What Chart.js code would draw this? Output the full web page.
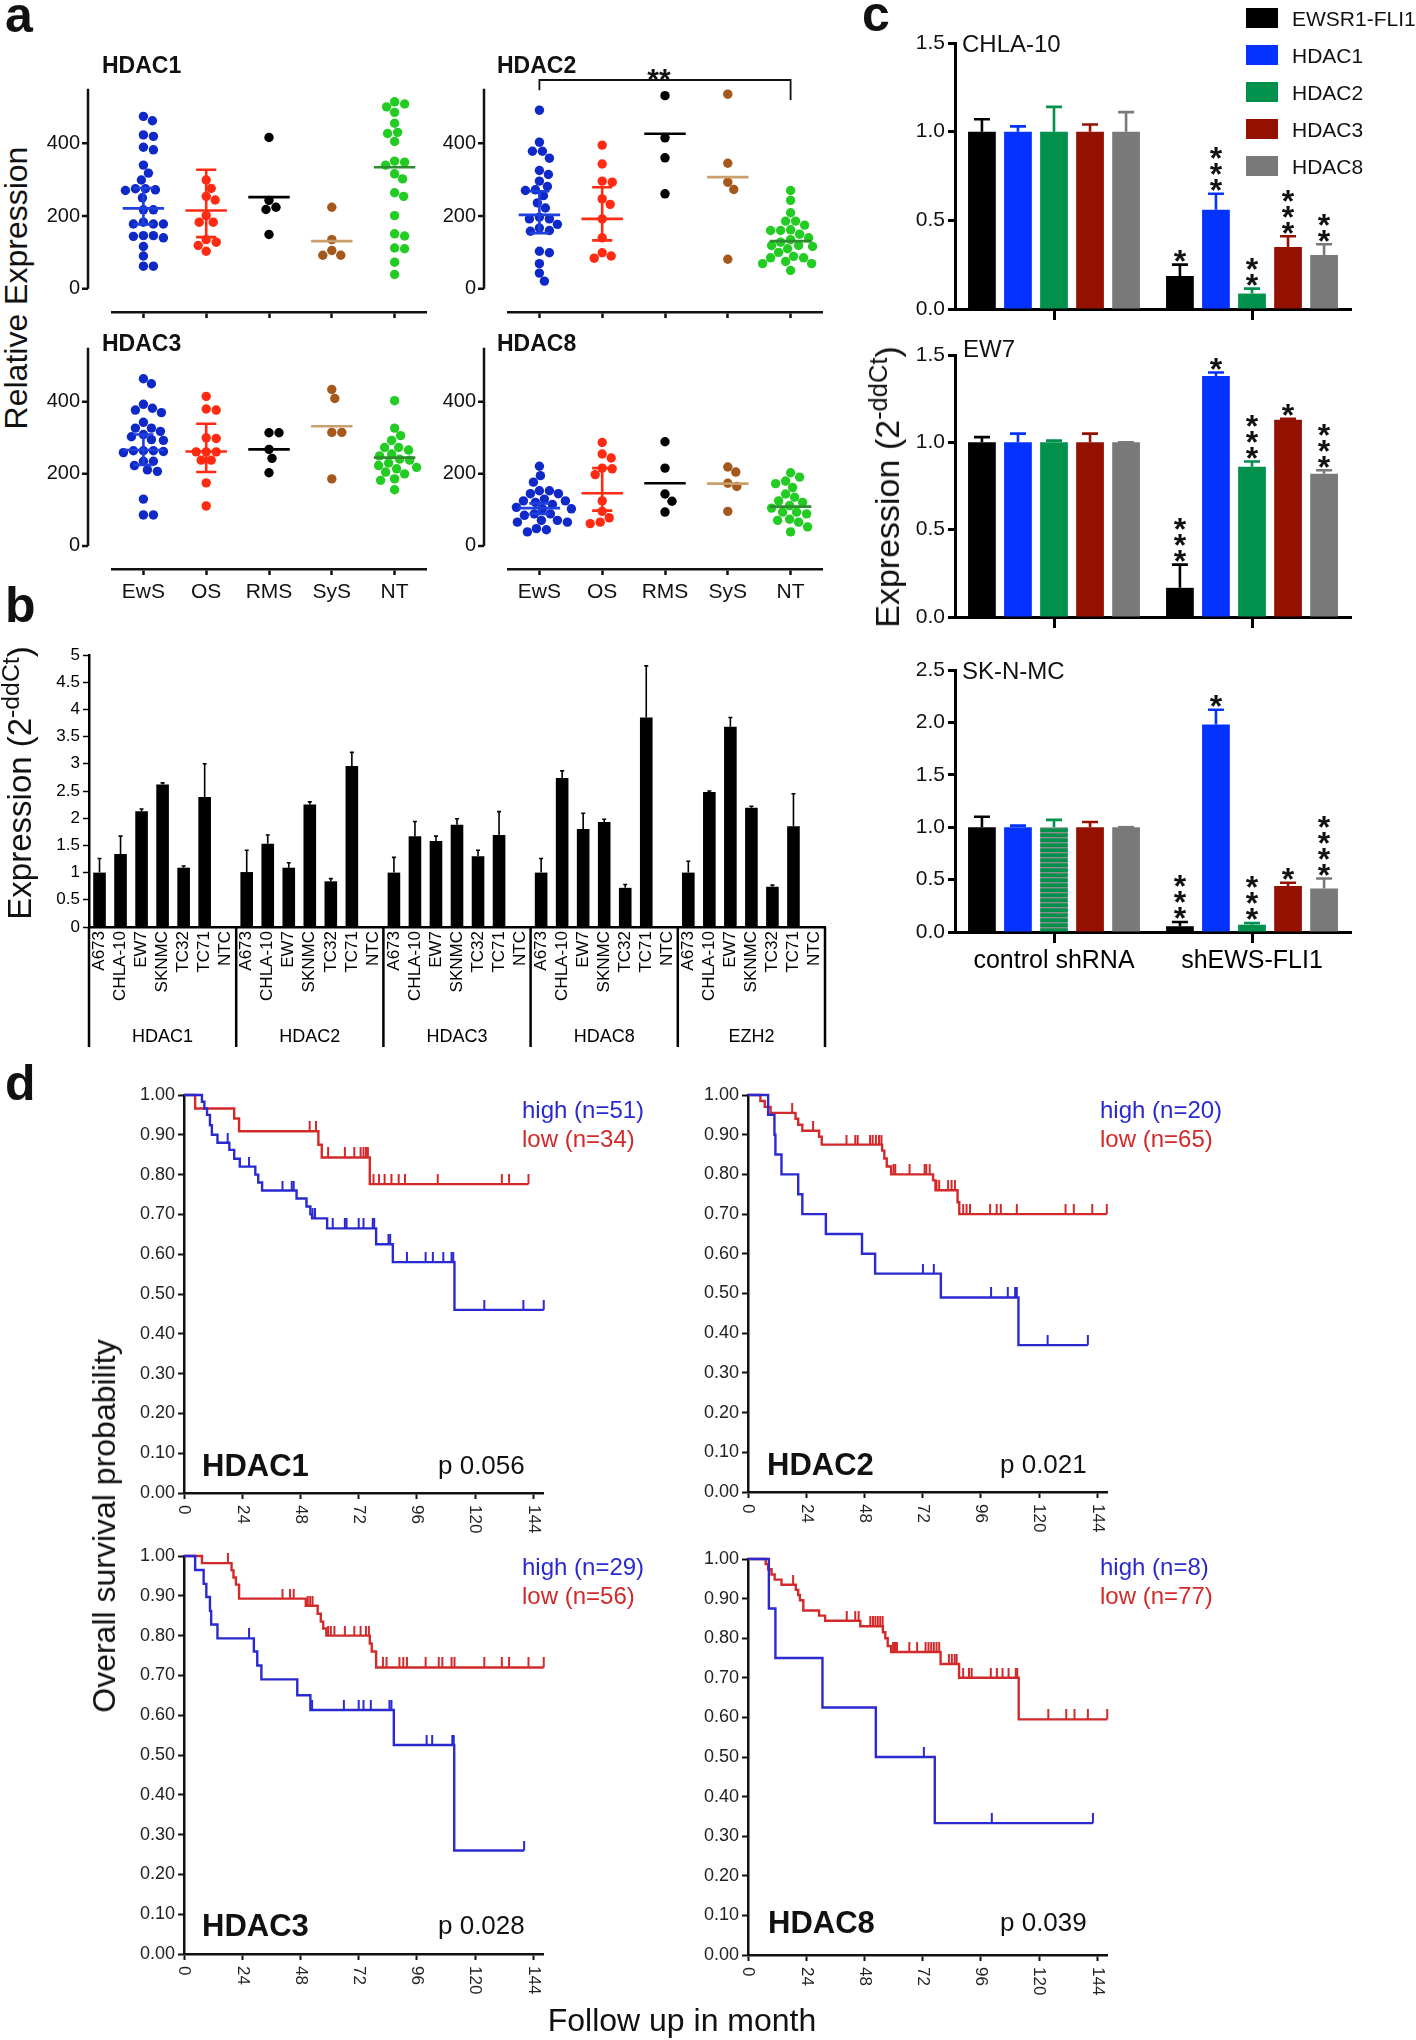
<!DOCTYPE html>
<html>
<head>
<meta charset="utf-8">
<title>HDAC expression in Ewing sarcoma</title>
<script src="https://cdn.jsdelivr.net/npm/chart.js@4.4.1/dist/chart.umd.min.js"></script>
<style>
  html, body { margin: 0; padding: 0; background: #fff; }
  #fig { position: relative; width: 1416px; height: 2040px; overflow: hidden; background: #fff;
         font-family: 'Liberation Sans', Arial, sans-serif; color: #111; }
  #fig canvas { position: absolute; }
  .t { position: absolute; white-space: nowrap; line-height: 1; }
  .t sup { font-size: 75%; vertical-align: super; line-height: 0; }
</style>
</head>
<body>
<div id="fig"></div>
<script>
// ---- panel a: relative expression by tumour type
var tumorTypes = ['EwS', 'OS', 'RMS', 'SyS', 'NT'];
var dotTicks = [0, 200, 400];

var hdac1Dots = [
  [474, 462, 423, 419, 389, 382, 340, 318, 299, 275, 275, 272, 270, 250, 217, 217, 183, 178, 178, 178, 146, 146, 144, 140, 116, 90, 62, 62],
  [299, 276, 254, 244, 201, 183, 183, 135, 128, 119, 103],
  [416, 243, 224, 218, 149],
  [224, 135, 105, 92, 92],
  [514, 508, 500, 485, 455, 430, 427, 405, 351, 348, 340, 316, 302, 264, 254, 201, 151, 145, 112, 110, 73, 39]
];
var hdac1Center = [221, 215, 252, 131, 334];
var hdac1Err = [[177, 277], [142, 327], null, null, null];

var hdac2Dots = [
  [491, 403, 378, 378, 359, 325, 314, 296, 281, 272, 270, 256, 236, 222, 197, 192, 192, 177, 167, 160, 158, 103, 99, 69, 43, 21],
  [395, 343, 296, 293, 247, 232, 192, 140, 99, 90, 84],
  [531, 415, 360, 261],
  [535, 345, 293, 273, 81],
  [270, 243, 209, 186, 186, 175, 162, 160, 160, 150, 140, 135, 128, 119, 119, 116, 110, 100, 89, 85, 85, 75, 69, 69, 50]
];
var hdac2Center = [203, 192, 426, 307, 131];
var hdac2Err = [[153, 268], [133, 279], null, null, null];

var hdac3Dots = [
  [464, 450, 393, 382, 377, 370, 343, 327, 327, 318, 309, 303, 295, 293, 264, 264, 264, 262, 259, 235, 235, 223, 211, 207, 130, 86, 86],
  [415, 380, 377, 300, 298, 261, 261, 261, 238, 238, 175, 111],
  [314, 314, 268, 243, 203],
  [434, 409, 315, 315, 186],
  [403, 327, 306, 293, 273, 273, 266, 255, 250, 241, 238, 230, 223, 218, 214, 205, 200, 186, 182, 156]
];
var hdac3Center = [266, 262, 268, 332, 245];
var hdac3Err = [[225, 309], [205, 339], null, null, null];

var hdac8Dots = [
  [221, 195, 177, 153, 153, 145, 145, 130, 125, 125, 121, 115, 107, 103, 103, 89, 89, 85, 71, 71, 66, 66, 48, 45, 39],
  [287, 255, 244, 216, 214, 198, 125, 96, 78, 66, 62],
  [289, 216, 144, 124, 94],
  [219, 205, 174, 165, 96],
  [203, 191, 180, 173, 162, 144, 135, 125, 121, 112, 105, 94, 94, 89, 74, 71, 66, 53, 39]
];
var hdac8Center = [105, 146, 174, 173, 109];
var hdac8Err = [[89, 118], [98, 216], null, null, null];

// ---- panel b: qPCR in cell lines
var cellLines = ['A673', 'CHLA-10', 'EW7', 'SKNMC', 'TC32', 'TC71', 'NTC'];
var qpcrGenes = ['HDAC1', 'HDAC2', 'HDAC3', 'HDAC8', 'EZH2'];
var qpcrHDAC1 = [1.0, 1.34, 2.13, 2.62, 1.09, 2.39, 0];
var qpcrHDAC2 = [1.01, 1.53, 1.09, 2.25, 0.84, 2.96, 0];
var qpcrHDAC3 = [1.0, 1.67, 1.58, 1.88, 1.30, 1.69, 0];
var qpcrHDAC8 = [1.0, 2.74, 1.80, 1.93, 0.72, 3.85, 0];
var qpcrEZH2 = [1.0, 2.48, 3.68, 2.19, 0.74, 1.85, 0];
var qpcrTopHDAC1 = [1.26, 1.67, 2.17, 2.65, 1.12, 3.0, 0];
var qpcrTopHDAC2 = [1.41, 1.69, 1.18, 2.30, 0.89, 3.21, 0];
var qpcrTopHDAC3 = [1.28, 1.94, 1.67, 1.99, 1.41, 2.12, 0];
var qpcrTopHDAC8 = [1.26, 2.87, 2.09, 1.98, 0.78, 4.80, 0];
var qpcrTopEZH2 = [1.21, 2.50, 3.85, 2.22, 0.77, 2.45, 0];
var qpcrTicks = [0, 0.5, 1, 1.5, 2, 2.5, 3, 3.5, 4, 4.5, 5];

// ---- panel c: knockdown of EWS-FLI1
var knockSeries = ['EWSR1-FLI1', 'HDAC1', 'HDAC2', 'HDAC3', 'HDAC8'];
var shConditions = ['control shRNA', 'shEWS-FLI1'];
var chla10Means = [[1.0, 0.186], [1.0, 0.56], [1.0, 0.087], [1.0, 0.35], [1.0, 0.305]];
var chla10Tops = [[1.07, 0.25], [1.03, 0.65], [1.14, 0.115], [1.04, 0.41], [1.11, 0.365]];
var chla10Stars = [['', '*'], ['', '***'], ['', '**'], ['', '***'], ['', '**']];
var ew7Means = [[1.0, 0.167], [1.0, 1.38], [1.0, 0.86], [1.0, 1.13], [1.0, 0.82]];
var ew7Tops = [[1.03, 0.30], [1.05, 1.40], [1.01, 0.89], [1.05, 1.135], [1.0, 0.84]];
var ew7Stars = [['', '***'], ['', '*'], ['', '***'], ['', '*'], ['', '***']];
var sknmcMeans = [[1.0, 0.055], [1.0, 1.98], [1.0, 0.07], [1.0, 0.44], [1.0, 0.415]];
var sknmcTops = [[1.10, 0.096], [1.015, 2.12], [1.07, 0.086], [1.05, 0.47], [1.0, 0.51]];
var sknmcStars = [['', '***'], ['', '*'], ['', '***'], ['', '*'], ['', '****']];
var knockTicks15 = [0, 0.5, 1.0, 1.5];
var knockTicks25 = [0, 0.5, 1.0, 1.5, 2.0, 2.5];

// ---- panel d: Kaplan-Meier survival (time in months, survival, censored times)
var kmGenes = ['HDAC1', 'HDAC2', 'HDAC3', 'HDAC8'];
var kmPValues = ['0.056', '0.021', '0.028', '0.039'];
var kmHighN = [51, 20, 29, 8];
var kmLowN = [34, 65, 56, 77];
var kmTimeTicks = [0, 24, 48, 72, 96, 120, 144];
var kmProbTicks = [0, 0.1, 0.2, 0.3, 0.4, 0.5, 0.6, 0.7, 0.8, 0.9, 1.0];

var hdac1HighT = [0, 7.4, 8.4, 9.5, 10.7, 11.5, 13.8, 18.7, 20.7, 23, 29.4, 30.6, 32.2, 46.4, 50.5, 52.1, 52.8, 59, 79.2, 86.1, 111.5, 148.3];
var hdac1HighS = [1, 0.983, 0.966, 0.95, 0.924, 0.90, 0.88, 0.862, 0.84, 0.82, 0.80, 0.78, 0.76, 0.74, 0.72, 0.70, 0.69, 0.665, 0.625, 0.58, 0.46, 0.46];
var hdac1HighC = [18, 26.8, 40.6, 44.4, 45.2, 53, 54, 61.3, 66.3, 67, 72, 74, 77.8, 78.4, 84.3, 85, 91.9, 99.6, 102.6, 106.9, 110.3, 111, 123.8, 139.9, 148.3];
var hdac1LowT = [0, 4.6, 20.7, 22.7, 55.4, 56.8, 76.6, 142];
var hdac1LowS = [1, 0.966, 0.941, 0.909, 0.875, 0.843, 0.776, 0.776];
var hdac1LowC = [51.8, 54.4, 59.4, 66.3, 70.2, 72.8, 74, 75, 75.8, 78.1, 80.4, 82.7, 85.5, 88.5, 91.1, 104.6, 131, 134, 142];

var hdac2HighT = [0, 8.3, 10.9, 11.3, 13.8, 20.7, 22.4, 32.1, 47, 52.4, 79.5, 111.5, 140.1];
var hdac2HighS = [1, 0.95, 0.90, 0.85, 0.80, 0.75, 0.70, 0.65, 0.60, 0.55, 0.49, 0.37, 0.37];
var hdac2HighC = [72.1, 76.6, 100.2, 107.1, 110.1, 110.8, 123.5, 140.1];
var hdac2LowT = [0, 5.1, 6.9, 9.3, 19.6, 20.7, 22.4, 29.3, 30.4, 55.3, 56.2, 57.2, 59, 76.3, 77.3, 86.4, 87.1, 147.9];
var hdac2LowS = [1, 0.985, 0.97, 0.955, 0.94, 0.925, 0.91, 0.895, 0.875, 0.86, 0.84, 0.82, 0.80, 0.785, 0.76, 0.73, 0.70, 0.70];
var hdac2LowC = [18.2, 26.8, 40.6, 44.2, 45.2, 50.3, 51.4, 52.7, 54, 55, 60, 60.7, 66.6, 72.8, 73.5, 74.9, 77.7, 78.8, 82.5, 83.9, 85.3, 88.7, 90.1, 91.5, 99.8, 102.5, 104.2, 110.8, 130.9, 134.3, 141.9, 147.9];

var hdac3HighT = [0, 4.6, 8.1, 9.2, 10.7, 11.2, 13.8, 28.8, 30.2, 31.9, 46.7, 52.1, 86.5, 111.4, 140.2];
var hdac3HighS = [1, 0.965, 0.93, 0.897, 0.862, 0.828, 0.793, 0.76, 0.725, 0.69, 0.65, 0.613, 0.525, 0.26, 0.26];
var hdac3HighC = [26.8, 52.8, 65.9, 72, 74, 77, 84.7, 85.5, 100, 102.3, 110.6, 111.2, 140.2];
var hdac3LowT = [0, 7.4, 19.6, 20.4, 21.4, 22.7, 50.2, 55.1, 56.4, 57.4, 58.7, 76.6, 77.4, 79.2, 148.3];
var hdac3LowS = [1, 0.982, 0.964, 0.946, 0.928, 0.893, 0.875, 0.855, 0.835, 0.818, 0.80, 0.78, 0.76, 0.72, 0.72];
var hdac3LowC = [18.1, 40.6, 43.7, 45.2, 51, 52, 53, 59.4, 60.5, 62, 66.3, 70.2, 72.8, 75, 76.2, 82, 83.5, 88.8, 90.4, 91.9, 99.6, 105, 106.5, 110.3, 111.5, 123.8, 131, 134, 142, 148.3];

var hdac8HighT = [0, 8.6, 11.3, 30.7, 52.7, 77, 142.2];
var hdac8HighS = [1, 0.875, 0.75, 0.625, 0.5, 0.333, 0.333];
var hdac8HighC = [72.5, 100.5, 142.2];
var hdac8LowT = [0, 7.3, 8.3, 9.7, 11, 13.8, 19.7, 20.7, 21.4, 22.8, 29.3, 31.8, 46.3, 55.6, 56.6, 57.6, 59, 79.4, 87, 111.6, 148.1];
var hdac8LowS = [1, 0.987, 0.974, 0.961, 0.948, 0.935, 0.922, 0.909, 0.896, 0.87, 0.857, 0.844, 0.83, 0.815, 0.80, 0.78, 0.765, 0.735, 0.70, 0.595, 0.595];
var hdac8LowC = [18.6, 40.7, 44.2, 45.6, 50.4, 51.5, 52.5, 53.5, 54.5, 55.5, 59.8, 60.6, 61.4, 66.5, 69.7, 73.2, 74.4, 75.5, 76.6, 77.7, 78.8, 82.8, 84, 85.2, 86, 88.7, 91.1, 92.2, 100.1, 102.6, 104.9, 107.4, 110.4, 111, 123.8, 131.2, 134.6, 140.1, 148.1];

// ---- styles
var SANS = "'Liberation Sans', Arial, sans-serif";
var NARROW = "'Liberation Sans Narrow', 'Arial Narrow', 'Liberation Sans', sans-serif";
var dotColors = ['#0f28c8', '#ff2a12', '#000000', '#a5581c', '#22cc22'];
var meanColors = ['#1f3fdf', '#ff2a12', '#000000', '#c9a06b', '#2d8c2d'];
var knockColors = ['#000000', '#0433ff', '#00914d', '#941100', '#797979'];
var HIGH = '#2a2ad0', LOW = '#d22a2a';

Chart.defaults.font.family = SANS;
Chart.defaults.color = '#111';
Chart.defaults.animation = false;
Chart.defaults.responsive = false;
Chart.defaults.devicePixelRatio = 1;
Chart.defaults.events = [];
Chart.defaults.plugins.legend.display = false;
Chart.defaults.plugins.tooltip.enabled = false;

var fig = document.getElementById('fig');

function frame(box, plot) {
  return {
    pad: { top: plot.t - box.t, right: box.r - plot.r, left: 0, bottom: 0 },
    yw: plot.l - box.l,
    xh: box.b - plot.b
  };
}

function canvasAt(box) {
  var c = document.createElement('canvas');
  c.width = box.r - box.l;
  c.height = box.b - box.t;
  c.style.left = box.l + 'px';
  c.style.top = box.t + 'px';
  fig.appendChild(c);
  return c.getContext('2d');
}

function label(html, x, y, css) {
  var d = document.createElement('div');
  d.className = 't';
  d.innerHTML = html;
  d.style.left = x + 'px';
  d.style.top = y + 'px';
  if (css) d.style.cssText += css;
  fig.appendChild(d);
  return d;
}

function tickList(vals) {
  return function (s) { s.ticks = vals.map(function (v) { return { value: v }; }); };
}

// simple beeswarm: spread points sideways so dots do not overlap
function swarm(values, center, xpx, ypx) {
  var d = 9.4, placed = [];
  values.slice().sort(function (a, b) { return b - a; }).forEach(function (v) {
    for (var k = 0; k < 80; k++) {
      var off = (k % 2 ? 1 : -1) * Math.ceil(k / 2);
      var hit = placed.some(function (p) {
        var dx = off - p.off, dy = (v - p.v) * ypx;
        return dx * dx + dy * dy < d * d;
      });
      if (!hit) { placed.push({ v: v, off: off }); break; }
    }
  });
  return placed.map(function (p) { return { x: center + p.off / xpx, y: p.v }; });
}

function survAt(T, S, t) {
  var s = S[0];
  for (var i = 0; i < T.length; i++) { if (T[i] <= t) s = S[i]; }
  return s;
}

function censorMark(color) {
  var c = document.createElement('canvas');
  c.width = 4; c.height = 20;
  var g = c.getContext('2d');
  g.fillStyle = color;
  g.fillRect(1, 0, 2, 10);
  return c;
}

// ---- plugins
var prismAxis = {
  id: 'prismAxis',
  afterDraw: function (chart, args, o) {
    var ctx = chart.ctx, ys = chart.scales.y, xs = chart.scales.x, a = chart.chartArea;
    var x0 = a.left - o.offset;
    ctx.save();
    ctx.strokeStyle = '#111';
    ctx.lineWidth = 2.5;
    ctx.beginPath();
    ctx.moveTo(x0, ys.getPixelForValue(0));
    ctx.lineTo(x0, ys.getPixelForValue(o.top));
    o.ticks.forEach(function (v) {
      var py = ys.getPixelForValue(v);
      ctx.moveTo(x0 - 6, py);
      ctx.lineTo(x0, py);
    });
    ctx.stroke();
    var b = o.bracket;
    if (b) {
      var xa = xs.getPixelForValue(b.from), xb = xs.getPixelForValue(b.to), yl = ys.getPixelForValue(b.level);
      ctx.lineWidth = 1.8;
      ctx.beginPath();
      ctx.moveTo(xa, ys.getPixelForValue(b.legs[0]));
      ctx.lineTo(xa, yl);
      ctx.lineTo(xb, yl);
      ctx.lineTo(xb, ys.getPixelForValue(b.legs[1]));
      ctx.stroke();
      ctx.fillStyle = '#111';
      ctx.font = 'bold 30px ' + SANS;
      ctx.textAlign = 'center';
      ctx.textBaseline = 'alphabetic';
      ctx.fillText(b.text, (xa + xb) / 2 - 6, yl + 9);
    }
    ctx.restore();
  }
};

var errBars = {
  id: 'errBars',
  afterDatasetsDraw: function (chart, args, o) {
    var ctx = chart.ctx, ys = chart.scales.y;
    ctx.save();
    o.tops.forEach(function (tops, di) {
      var meta = chart.getDatasetMeta(di);
      meta.data.forEach(function (bar, j) {
        var val = chart.data.datasets[di].data[j];
        if (!(val > 0) || !(tops[j] >= val)) return;
        var y1 = ys.getPixelForValue(tops[j]);
        ctx.strokeStyle = o.colors[di];
        ctx.lineWidth = o.width;
        ctx.beginPath();
        ctx.moveTo(bar.x, bar.y);
        ctx.lineTo(bar.x, y1);
        ctx.moveTo(bar.x - o.cap / 2, y1);
        ctx.lineTo(bar.x + o.cap / 2, y1);
        ctx.stroke();
        var n = (o.stars && o.stars[di][j]) ? o.stars[di][j].length : 0;
        ctx.fillStyle = '#111';
        ctx.font = 'bold ' + o.starSize + 'px ' + SANS;
        ctx.textAlign = 'center';
        ctx.textBaseline = 'alphabetic';
        for (var k = 0; k < n; k++) {
          var cy = y1 - o.starGap - k * o.starStep;
          ctx.fillText('*', bar.x, cy + o.starSize * 0.57);
        }
      });
    });
    ctx.restore();
  }
};

var groupAxis = {
  id: 'groupAxis',
  afterDraw: function (chart, args, o) {
    var ctx = chart.ctx, xs = chart.scales.x, a = chart.chartArea;
    var n = o.names.length, cw = (xs.right - xs.left) / (o.per * n);
    ctx.save();
    ctx.strokeStyle = '#000';
    ctx.lineWidth = 2.5;
    ctx.beginPath();
    for (var k = 0; k <= n; k++) {
      var x = xs.left + k * o.per * cw;
      ctx.moveTo(x, a.bottom);
      ctx.lineTo(x, a.bottom + o.depth);
    }
    ctx.stroke();
    ctx.fillStyle = '#000';
    ctx.font = o.font;
    ctx.textAlign = 'center';
    ctx.textBaseline = 'middle';
    o.names.forEach(function (nm, k) {
      ctx.fillText(nm, xs.left + (k + 0.5) * o.per * cw, a.bottom + o.labelY);
    });
    ctx.restore();
  }
};

var cwLabels = {
  id: 'cwLabels',
  afterDraw: function (chart, args, o) {
    var ctx = chart.ctx, xs = chart.scales.x, a = chart.chartArea;
    ctx.save();
    ctx.fillStyle = '#222';
    ctx.font = '17px ' + SANS;
    ctx.textAlign = 'left';
    ctx.textBaseline = 'middle';
    xs.ticks.forEach(function (t) {
      ctx.save();
      ctx.translate(xs.getPixelForValue(t.value), a.bottom + o.gap);
      ctx.rotate(Math.PI / 2);
      ctx.fillText(String(t.value), 0, 0);
      ctx.restore();
    });
    ctx.restore();
  }
};

// ---- panel a
function dotPlot(box, plot, dots, centers, errs, showNames, bracket) {
  var f = frame(box, plot);
  var yMin = -64, yMax = 552;
  var xpx = (plot.r - plot.l) / tumorTypes.length;
  var ypx = (plot.b - plot.t) / (yMax - yMin);
  var datasets = [];
  dots.forEach(function (vals, g) {
    datasets.push({ data: swarm(vals, g, xpx, ypx), backgroundColor: dotColors[g],
                    pointRadius: 4.7, pointBorderWidth: 0, order: 2 });
  });
  centers.forEach(function (m, g) {
    var pts = [{ x: g - 0.33, y: m }, { x: g + 0.33, y: m }];
    var e = errs[g];
    if (e) {
      pts.push({ x: g, y: null }, { x: g, y: e[0] }, { x: g, y: e[1] },
               { x: g, y: null }, { x: g - 0.16, y: e[1] }, { x: g + 0.16, y: e[1] },
               { x: g, y: null }, { x: g - 0.16, y: e[0] }, { x: g + 0.16, y: e[0] });
    }
    datasets.push({ data: pts, showLine: true, spanGaps: false, borderColor: meanColors[g],
                    borderWidth: 2.6, pointRadius: 0, order: 1 });
  });
  new Chart(canvasAt(box), {
    type: 'scatter',
    data: { datasets: datasets },
    options: {
      layout: { padding: f.pad },
      scales: {
        x: {
          type: 'linear', min: -0.5, max: 4.5,
          afterBuildTicks: tickList([0, 1, 2, 3, 4]),
          ticks: { display: showNames, color: '#111', font: { size: 21 }, padding: 5, maxRotation: 0,
                   callback: function (v) { return tumorTypes[v]; } },
          grid: { display: true, drawOnChartArea: false, tickLength: 6, tickWidth: 2.5, tickColor: '#111' },
          border: { display: true, width: 2.5, color: '#111' },
          afterFit: function (s) { s.height = f.xh; }
        },
        y: {
          min: yMin, max: yMax,
          afterBuildTicks: tickList(dotTicks),
          ticks: { color: '#111', font: { size: 20 }, padding: 3 },
          grid: { display: false, drawTicks: true, tickLength: 29 },
          border: { display: false },
          afterFit: function (s) { s.width = f.yw; }
        }
      },
      plugins: { prismAxis: { offset: 24, top: 550, ticks: dotTicks, bracket: bracket } }
    },
    plugins: [prismAxis]
  });
}

dotPlot({ l: 40, t: 50, r: 440, b: 330 }, { l: 112, t: 88, r: 426, b: 312 }, hdac1Dots, hdac1Center, hdac1Err, false, null);
dotPlot({ l: 440, t: 50, r: 840, b: 330 }, { l: 508, t: 88, r: 822, b: 312 }, hdac2Dots, hdac2Center, hdac2Err, false,
        { from: 0, to: 4, level: 574, legs: [546, 519], text: '**' });
dotPlot({ l: 40, t: 330, r: 440, b: 610 }, { l: 112, t: 347, r: 426, b: 569 }, hdac3Dots, hdac3Center, hdac3Err, true, null);
dotPlot({ l: 440, t: 330, r: 840, b: 610 }, { l: 508, t: 347, r: 822, b: 569 }, hdac8Dots, hdac8Center, hdac8Err, true, null);

var titleCss = 'font-weight:bold;font-size:23px;transform:translateY(-50%);';
label('HDAC1', 102, 65, titleCss);
label('HDAC2', 497, 65, titleCss);
label('HDAC3', 102, 343, titleCss);
label('HDAC8', 497, 343, titleCss);
label('Relative Expression', 16, 288, 'font-size:32px;transform:translate(-50%,-50%) rotate(-90deg);');

// ---- panel b
(function () {
  var box = { l: 20, t: 640, r: 845, b: 1062 }, plot = { l: 89, t: 655, r: 825, b: 927 };
  var f = frame(box, plot);
  var means = [qpcrHDAC1, qpcrHDAC2, qpcrHDAC3, qpcrHDAC8, qpcrEZH2];
  var tops = [qpcrTopHDAC1, qpcrTopHDAC2, qpcrTopHDAC3, qpcrTopHDAC8, qpcrTopEZH2];
  var labels = [], values = [], errTop = [];
  qpcrGenes.forEach(function (g, k) {
    cellLines.forEach(function (c, i) {
      labels.push(c);
      values.push(means[k][i]);
      errTop.push(tops[k][i]);
    });
  });
  new Chart(canvasAt(box), {
    type: 'bar',
    data: { labels: labels, datasets: [{ data: values, backgroundColor: '#000', barPercentage: 0.6, categoryPercentage: 1 }] },
    options: {
      layout: { padding: f.pad },
      scales: {
        x: {
          grid: { display: false, drawTicks: false },
          border: { display: true, color: '#000', width: 2.5 },
          ticks: { autoSkip: false, minRotation: 90, maxRotation: 90, padding: 4, color: '#000',
                   font: { family: NARROW, size: 17 } },
          afterFit: function (s) { s.height = f.xh; }
        },
        y: {
          min: 0, max: 5,
          afterBuildTicks: tickList(qpcrTicks),
          ticks: { padding: 3, color: '#000', font: { family: NARROW, size: 17 },
                   callback: function (v) { return String(v); } },
          grid: { display: true, drawOnChartArea: false, tickLength: 6, tickWidth: 1.5, tickColor: '#000' },
          border: { display: true, color: '#000', width: 2.5 },
          afterFit: function (s) { s.width = f.yw; }
        }
      },
      plugins: {
        errBars: { tops: [errTop], colors: ['#000'], width: 1.6, cap: 4 },
        groupAxis: { names: qpcrGenes, per: cellLines.length, depth: 120, labelY: 110, font: '18px ' + NARROW }
      }
    },
    plugins: [errBars, groupAxis]
  });
})();
label('Expression (2<sup>-ddCt</sup>)', 19, 783, 'font-size:33px;transform:translate(-50%,-50%) rotate(-90deg);');

// ---- panel c
function knockChart(box, plot, means, tops, stars, ticks, showNames, hatch) {
  var f = frame(box, plot);
  var ctx = canvasAt(box);
  var datasets = knockSeries.map(function (name, k) {
    var fill = knockColors[k];
    if (hatch && hatch[0] === k) {
      var pc = document.createElement('canvas');
      pc.width = 4; pc.height = 5;
      var pg = pc.getContext('2d');
      pg.fillStyle = knockColors[k];
      pg.fillRect(0, 0, 4, 5);
      pg.fillStyle = '#8c8c8c';
      pg.fillRect(0, 2, 4, 1.4);
      var pat = ctx.createPattern(pc, 'repeat');
      fill = shConditions.map(function (c, i) { return i === hatch[1] ? pat : knockColors[k]; });
    }
    return { label: name, data: means[k], backgroundColor: fill, borderWidth: 0,
             barPercentage: 0.77, categoryPercentage: 0.91 };
  });
  new Chart(ctx, {
    type: 'bar',
    data: { labels: shConditions, datasets: datasets },
    options: {
      layout: { padding: f.pad },
      scales: {
        x: {
          grid: { display: true, drawOnChartArea: false, offset: false, tickLength: 11, tickWidth: 3, tickColor: '#000' },
          border: { display: true, color: '#000', width: 3 },
          ticks: { display: showNames, color: '#000', font: { size: 25 }, padding: 3, maxRotation: 0 },
          afterFit: function (s) { s.height = f.xh; }
        },
        y: {
          min: 0, max: ticks[ticks.length - 1],
          afterBuildTicks: tickList(ticks),
          ticks: { padding: 3, color: '#111', font: { size: 21 },
                   callback: function (v) { return v.toFixed(1); } },
          grid: { display: true, drawOnChartArea: false, tickLength: 7, tickWidth: 3, tickColor: '#000' },
          border: { display: true, color: '#000', width: 3 },
          afterFit: function (s) { s.width = f.yw; }
        }
      },
      plugins: {
        errBars: { tops: tops, colors: knockColors, width: 2.6, cap: 16, stars: stars,
                   starSize: 32, starGap: 11, starStep: 16 }
      }
    },
    plugins: [errBars]
  });
}

knockChart({ l: 900, t: 25, r: 1370, b: 330 }, { l: 955, t: 43, r: 1351, b: 309 },
           chla10Means, chla10Tops, chla10Stars, knockTicks15, false, null);
knockChart({ l: 900, t: 335, r: 1370, b: 640 }, { l: 955, t: 355, r: 1351, b: 617 },
           ew7Means, ew7Tops, ew7Stars, knockTicks15, false, null);
knockChart({ l: 900, t: 650, r: 1370, b: 990 }, { l: 955, t: 670, r: 1351, b: 932 },
           sknmcMeans, sknmcTops, sknmcStars, knockTicks25, true, [2, 0]);

var cellCss = 'font-size:24px;transform:translateY(-50%);';
label('CHLA-10', 962, 44, cellCss);
label('EW7', 963, 349, cellCss);
label('SK-N-MC', 962, 671, cellCss);
label('Expression (2<sup>-ddCt</sup>)', 887, 487, 'font-size:34px;transform:translate(-50%,-50%) rotate(-90deg);');

knockSeries.forEach(function (name, k) {
  var cy = 18 + k * 37;
  var sw = document.createElement('div');
  sw.style.cssText = 'position:absolute;left:1246px;width:32px;height:20px;top:' + (cy - 10) + 'px;background:' + knockColors[k] + ';';
  fig.appendChild(sw);
  label(name, 1292, cy, 'font-size:21px;transform:translateY(-50%);');
});

// ---- panel d
var kmCurves = [
  [[hdac1HighT, hdac1HighS, hdac1HighC], [hdac1LowT, hdac1LowS, hdac1LowC]],
  [[hdac2HighT, hdac2HighS, hdac2HighC], [hdac2LowT, hdac2LowS, hdac2LowC]],
  [[hdac3HighT, hdac3HighS, hdac3HighC], [hdac3LowT, hdac3LowS, hdac3LowC]],
  [[hdac8HighT, hdac8HighS, hdac8HighC], [hdac8LowT, hdac8LowS, hdac8LowC]]
];
var kmLayout = [
  { box: { l: 120, t: 1080, r: 560, b: 1545 }, plot: { l: 184, t: 1095, r: 543, b: 1493 }, name: [202, 1465], p: [438, 1465], leg: [522, 1110] },
  { box: { l: 684, t: 1080, r: 1124, b: 1545 }, plot: { l: 748, t: 1095, r: 1107, b: 1492 }, name: [767, 1464], p: [1000, 1464], leg: [1100, 1110] },
  { box: { l: 120, t: 1540, r: 560, b: 2005 }, plot: { l: 184, t: 1556, r: 543, b: 1954 }, name: [202, 1925], p: [438, 1925], leg: [522, 1567] },
  { box: { l: 684, t: 1540, r: 1124, b: 2005 }, plot: { l: 748, t: 1559, r: 1107, b: 1955 }, name: [768, 1922], p: [1000, 1922], leg: [1100, 1567] }
];

kmGenes.forEach(function (gene, gi) {
  var L = kmLayout[gi];
  var f = frame(L.box, L.plot);
  var ds = [];
  kmCurves[gi].forEach(function (cv, ci) {
    var color = ci === 0 ? HIGH : LOW;
    var T = cv[0], S = cv[1], C = cv[2];
    ds.push({ data: T.map(function (t, i) { return { x: t, y: S[i] }; }), showLine: true, stepped: 'before',
              borderColor: color, borderWidth: 2.4, pointRadius: 0, clip: false, order: 2 });
    ds.push({ data: C.map(function (t) { return { x: t, y: survAt(T, S, t) }; }),
              pointStyle: censorMark(color), pointRadius: 3, clip: false, order: 1 });
  });
  new Chart(canvasAt(L.box), {
    type: 'scatter',
    data: { datasets: ds },
    options: {
      layout: { padding: f.pad },
      scales: {
        x: {
          type: 'linear', min: 0, max: 148,
          afterBuildTicks: tickList(kmTimeTicks),
          ticks: { display: false },
          grid: { display: true, drawOnChartArea: false, tickLength: 6, tickWidth: 2, tickColor: '#111' },
          border: { display: true, width: 2.5, color: '#111' },
          afterFit: function (s) { s.height = f.xh; }
        },
        y: {
          min: 0, max: 1,
          afterBuildTicks: tickList(kmProbTicks),
          ticks: { color: '#222', font: { size: 18 }, padding: 3,
                   callback: function (v) { return v.toFixed(2); } },
          grid: { display: true, drawOnChartArea: false, tickLength: 6, tickWidth: 2, tickColor: '#111' },
          border: { display: true, width: 2.5, color: '#111' },
          afterFit: function (s) { s.width = f.yw; }
        }
      },
      plugins: { cwLabels: { gap: 12 } }
    },
    plugins: [cwLabels]
  });
  label(gene, L.name[0], L.name[1], 'font-weight:bold;font-size:31px;transform:translateY(-50%);');
  label('p ' + kmPValues[gi], L.p[0], L.p[1], 'font-size:26px;transform:translateY(-50%);');
  label('high (n=' + kmHighN[gi] + ')', L.leg[0], L.leg[1], 'font-size:24px;color:' + HIGH + ';transform:translateY(-50%);');
  label('low (n=' + kmLowN[gi] + ')', L.leg[0], L.leg[1] + 29, 'font-size:24px;color:' + LOW + ';transform:translateY(-50%);');
});

label('Overall survival probability', 104, 1526, 'font-size:32px;transform:translate(-50%,-50%) rotate(-90deg);');
label('Follow up in month', 682, 2020, 'font-size:32px;transform:translate(-50%,-50%);');

// panel letters
var letterCss = 'font-weight:bold;font-size:50px;';
label('a', 5, -10, letterCss);
label('b', 5, 580, letterCss);
label('c', 862, -11, letterCss);
label('d', 5, 1058, letterCss);
</script>
</body>
</html>
